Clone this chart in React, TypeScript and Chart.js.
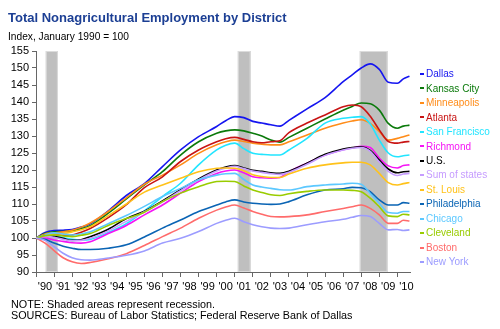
import React, { useEffect, useRef } from "react";
import { Chart, registerables } from "chart.js";
Chart.register(...registerables);

const years = [1990.0, 1990.5, 1991.0, 1991.5, 1992.0, 1992.5, 1993.0, 1994.0, 1995.0, 1996.0, 1997.0, 1998.0, 1999.0, 2000.0, 2000.5, 2001.0, 2001.5, 2002.0, 2002.5, 2003.0, 2003.5, 2004.0, 2005.0, 2006.0, 2007.0, 2007.5, 2008.0, 2008.5, 2009.0, 2009.5, 2010.0, 2010.33, 2010.67];

const dallas = [100, 101.6, 102.2, 102.3, 102.5, 103.2, 104.2, 108.0, 112.5, 116.0, 121.0, 125.9, 129.8, 132.8, 134.5, 135.7, 135.4, 134.3, 133.8, 133.3, 132.9, 134.6, 138.0, 141.3, 146.0, 148.0, 150.0, 151.2, 149.6, 145.8, 145.5, 146.8, 147.6];
const kansasCity = [100, 101.3, 101.8, 101.9, 102.1, 102.7, 103.6, 107.3, 111.5, 115.6, 119.5, 124.4, 128.3, 130.8, 131.5, 131.8, 131.5, 130.8, 130.0, 128.8, 128.2, 129.6, 132.3, 135.0, 137.6, 138.7, 139.7, 139.5, 137.6, 133.7, 132.3, 132.9, 133.2];
const minneapolis = [100, 101.2, 101.5, 101.8, 102.3, 103.2, 104.4, 107.8, 111.8, 115.8, 118.5, 121.5, 124.9, 127.4, 128.3, 128.8, 128.4, 127.9, 127.6, 127.4, 127.4, 128.3, 130.3, 132.3, 133.8, 134.4, 134.8, 133.7, 131.3, 128.8, 129.3, 129.8, 130.3];
const atlanta = [100, 100.8, 100.9, 100.8, 100.9, 101.7, 102.8, 106.0, 109.8, 114.8, 118.0, 122.5, 125.9, 128.3, 129.2, 129.6, 129.0, 128.3, 128.0, 128.3, 128.6, 131.0, 133.8, 136.2, 138.6, 139.1, 138.6, 135.8, 131.8, 128.4, 127.9, 128.2, 128.4];
const sanFrancisco = [100, 100.6, 100.7, 100.1, 99.6, 99.4, 99.6, 101.6, 104.2, 108.0, 112.2, 116.1, 121.5, 125.9, 127.3, 127.9, 126.3, 124.9, 124.6, 124.4, 124.4, 125.9, 129.3, 133.8, 135.2, 135.5, 135.7, 133.5, 128.8, 125.0, 123.9, 124.2, 124.4];
const richmond = [100, 100.0, 99.4, 99.0, 98.6, 98.5, 98.9, 101.3, 103.7, 106.8, 109.7, 113.2, 116.6, 119.0, 119.7, 120.0, 119.2, 118.0, 117.7, 117.6, 117.8, 119.5, 122.0, 124.4, 126.0, 126.5, 127.0, 126.6, 123.5, 121.2, 120.6, 121.3, 121.5];
const us = [100, 100.8, 100.5, 99.9, 99.3, 99.5, 100.4, 102.6, 105.7, 107.9, 110.9, 114.2, 117.4, 120.0, 120.9, 121.3, 120.6, 119.9, 119.6, 119.2, 119.0, 119.6, 122.0, 124.6, 126.2, 126.6, 126.8, 125.8, 122.9, 120.3, 119.2, 119.5, 119.6];
const sumOfStates = [100, 100.6, 100.2, 99.6, 99.2, 99.3, 99.9, 102.1, 104.9, 107.7, 110.6, 113.9, 117.1, 119.7, 120.6, 121.1, 120.4, 119.7, 119.3, 118.9, 118.7, 119.3, 121.7, 124.3, 125.9, 126.4, 126.6, 125.5, 122.4, 119.6, 118.4, 118.8, 119.0];
const stLouis = [100, 100.8, 101.2, 101.3, 101.8, 102.4, 103.3, 106.6, 110.0, 113.5, 115.6, 117.6, 119.5, 120.5, 120.6, 120.5, 119.8, 118.6, 118.1, 117.8, 117.8, 118.8, 120.5, 121.5, 122.1, 122.3, 122.3, 121.5, 119.0, 116.3, 115.6, 116.0, 116.3];
const philadelphia = [100, 99.6, 98.5, 97.6, 97.0, 96.6, 96.6, 97.0, 98.0, 100.3, 102.9, 105.3, 107.8, 109.7, 110.6, 111.2, 110.6, 110.2, 110.0, 109.9, 110.0, 110.7, 112.7, 114.1, 114.5, 114.9, 114.8, 113.6, 111.2, 109.7, 109.7, 110.4, 110.2];
const chicago = [100, 100.9, 101.5, 101.2, 100.9, 101.2, 101.8, 104.2, 106.6, 109.3, 112.2, 114.6, 117.1, 118.5, 118.9, 119.0, 117.2, 115.6, 115.0, 114.6, 114.2, 114.1, 115.1, 115.6, 115.9, 116.1, 115.8, 113.1, 110.2, 107.5, 107.3, 107.8, 107.8];
const cleveland = [100, 100.7, 100.9, 100.6, 100.4, 100.8, 101.3, 103.7, 105.7, 107.6, 110.7, 113.2, 115.1, 116.6, 116.7, 116.6, 115.3, 114.1, 113.4, 112.7, 112.5, 113.0, 113.7, 114.1, 114.1, 114.0, 113.6, 111.7, 109.2, 106.5, 106.3, 107.0, 106.8];
const boston = [100, 98.5, 96.3, 94.2, 93.0, 92.5, 92.8, 93.9, 95.4, 97.8, 100.4, 102.9, 105.8, 108.2, 109.1, 109.7, 108.8, 107.8, 107.0, 106.3, 106.2, 106.3, 106.8, 107.8, 108.7, 109.2, 109.7, 108.7, 106.8, 104.3, 104.3, 105.2, 105.0];
const newYork = [100, 99.3, 97.5, 95.5, 94.2, 93.6, 93.5, 94.1, 94.9, 96.2, 98.5, 99.9, 101.9, 104.3, 105.2, 105.8, 104.8, 103.9, 103.3, 102.9, 102.8, 102.9, 103.9, 104.8, 105.5, 106.1, 106.6, 106.3, 104.3, 102.4, 102.5, 102.2, 102.4];

const seriesNames = ["Dallas", "Kansas City", "Minneapolis", "Atlanta", "San Francisco", "Richmond", "U.S.", "Sum of states", "St. Louis", "Philadelphia", "Chicago", "Cleveland", "Boston", "New York"];
const seriesValues = [dallas, kansasCity, minneapolis, atlanta, sanFrancisco, richmond, us, sumOfStates, stLouis, philadelphia, chicago, cleveland, boston, newYork];
const seriesColors = ["#1515F0", "#0B7A0B", "#FF8C19", "#C81414", "#22E5FF", "#F514F5", "#000000", "#C69CFF", "#FFC21A", "#0A64B4", "#5CC8FF", "#99CC00", "#FF6B6B", "#9C9CFF"];

const recessions = [[1990.54, 1991.21], [2001.17, 2001.88], [2007.92, 2009.46]];

const titleText = "Total Nonagricultural Employment by District";
const subtitleText = "Index, January 1990 = 100";
const noteText = "NOTE: Shaded areas represent recession.";
const sourceText = "SOURCES: Bureau of Labor Statistics; Federal Reserve Bank of Dallas";

const FONT = "'Liberation Sans', Arial, sans-serif";

export default function App() {
  const ref = useRef<HTMLCanvasElement | null>(null);
  useEffect(() => {
    document.body.style.margin = "0";
    const canvas = ref.current;
    if (!canvas) return;

    const shading = {
      id: "shading",
      beforeDatasetsDraw(chart: any) {
        const { ctx, chartArea, scales } = chart;
        ctx.save();
        for (const [a, b] of recessions) {
          const x1 = scales.x.getPixelForValue(a);
          const x2 = scales.x.getPixelForValue(b);
          ctx.fillStyle = "#BFBFBF";
          ctx.fillRect(x1, chartArea.top, x2 - x1, chartArea.bottom - chartArea.top);
          ctx.strokeStyle = "#DCDCDC";
          ctx.lineWidth = 1;
          ctx.strokeRect(x1 + 0.5, chartArea.top + 0.5, x2 - x1 - 1, chartArea.bottom - chartArea.top - 1);
        }
        ctx.restore();
      },
    };

    const texts = {
      id: "texts",
      afterDraw(chart: any) {
        const { ctx, chartArea } = chart;
        ctx.save();
        ctx.textBaseline = "alphabetic";
        ctx.textAlign = "left";
        ctx.fillStyle = "#1C3F94";
        ctx.font = `bold 13px ${FONT}`;
        ctx.fillText(titleText, 8, 22);
        ctx.fillStyle = "#000";
        ctx.font = `10.2px ${FONT}`;
        ctx.fillText(subtitleText, 8, 40);
        ctx.font = `10.8px ${FONT}`;
        ctx.fillText(noteText, 11, 308);
        ctx.fillText(sourceText, 11, 319);

        // legend
        const y0 = chartArea.top + 23;
        const step = (chartArea.bottom - 10 - y0) / (seriesNames.length - 1);
        const lx = chartArea.right + 10;
        ctx.font = `10px ${FONT}`;
        ctx.textBaseline = "middle";
        seriesNames.forEach((name, i) => {
          const y = y0 + i * step;
          ctx.fillStyle = seriesColors[i];
          ctx.fillRect(lx, Math.round(y) - 1, 4, 2);
          ctx.fillText(name, lx + 6, y + 0.5);
        });
        ctx.restore();
      },
    };

    const datasets = seriesNames.map((name, i) => ({
      label: name,
      data: years.map((x, j) => ({ x, y: seriesValues[i][j] })),
      borderColor: seriesColors[i],
      backgroundColor: seriesColors[i],
      borderWidth: 1.6,
      pointRadius: 0,
      cubicInterpolationMode: "monotone" as const,
      fill: false,
    }));
    datasets.reverse();

    const chart = new Chart(canvas, {
      type: "line",
      data: { datasets },
      options: {
        responsive: false,
        animation: false,
        devicePixelRatio: 1,
        layout: { padding: { top: 51, left: 0, right: 90, bottom: 0 } },
        plugins: { legend: { display: false }, title: { display: false }, tooltip: { enabled: false } },
        scales: {
          x: {
            type: "linear",
            min: 1990,
            max: 2010.7,
            afterFit(scale: any) { scale.height = 57; },
            grid: { display: true, drawOnChartArea: false, drawTicks: true, tickLength: 5, color: "#666" },
            border: { display: true, color: "#666", width: 1 },
            ticks: {
              stepSize: 1,
              includeBounds: false,
              autoSkip: false,
              maxRotation: 0,
              labelOffset: 9,
              padding: 3,
              color: "#000",
              font: { family: FONT, size: 11 },
              callback: (v: any) => "'" + String(Math.round(Number(v))).slice(2),
            },
          },
          y: {
            min: 90,
            max: 155,
            afterFit(scale: any) { scale.width = 36; },
            grid: { display: true, drawOnChartArea: false, drawTicks: true, tickLength: 4, color: "#666" },
            border: { display: true, color: "#666", width: 1 },
            ticks: { stepSize: 5, padding: 3, color: "#000", font: { family: FONT, size: 11 } },
          },
        },
      },
      plugins: [shading, texts],
    });
    return () => chart.destroy();
  }, []);
  return (
    <div style={{ width: 500, height: 329, position: "relative", background: "#fff" }}>
      <canvas ref={ref} width={500} height={329} style={{ width: 500, height: 329, display: "block" }} />
    </div>
  );
}
